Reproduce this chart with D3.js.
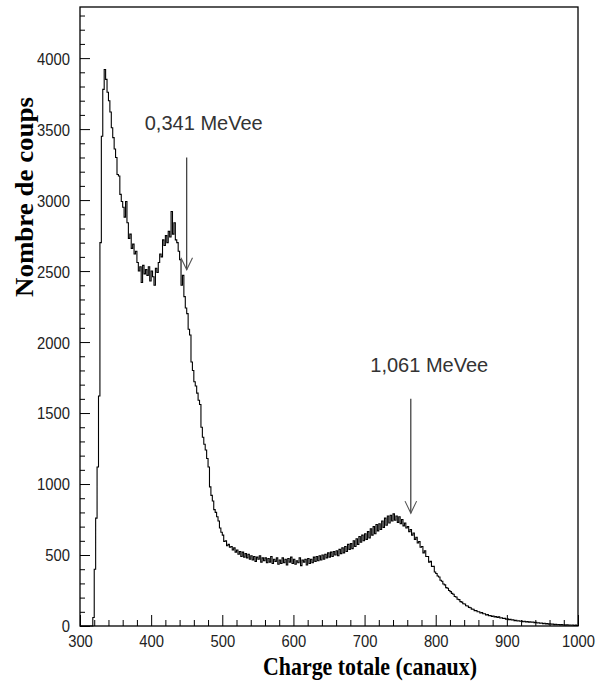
<!DOCTYPE html>
<html><head><meta charset="utf-8">
<script src="https://cdn.jsdelivr.net/npm/d3@7"></script>
<style>html,body{margin:0;padding:0;background:#fff;} svg{display:block}</style>
</head><body><svg id="c" width="597" height="690"></svg>
<script>
// ---- data ----
const binStart = 300, binEnd = 1000, binWidth = 2;
const counts = [
  0,0,0,0,0,0,0,0,0,60,
  400,760,1120,1620,2700,3450,3780,3920,3850,3760,
  3700,3620,3510,3440,3360,3300,3180,3170,3040,2990,
  2950,2880,2990,2840,2730,2760,2660,2690,2620,2640,
  2560,2500,2530,2420,2540,2480,2510,2470,2530,2430,
  2500,2460,2400,2520,2490,2560,2620,2600,2720,2680,
  2750,2700,2780,2740,2920,2760,2840,2720,2700,2640,
  2580,2400,2470,2320,2240,2200,2090,2050,1860,1800,
  1720,1690,1640,1590,1560,1400,1330,1280,1240,1180,
  1120,980,920,880,820,800,770,740,690,660,
  640,595,600,565,575,555,560,535,550,520,
  535,505,525,490,520,485,510,480,505,470,
  495,465,490,455,485,470,495,450,480,460,
  480,445,475,450,490,440,470,455,480,435,
  465,440,480,445,470,430,475,450,485,440,
  470,435,460,445,480,425,465,450,470,430,
  475,440,470,445,485,455,490,460,495,465,
  500,470,505,480,515,485,520,490,525,500,
  530,495,540,510,550,515,560,525,575,540,
  580,545,600,560,615,575,630,590,640,600,
  650,610,665,620,685,640,700,650,715,670,
  720,680,740,695,760,710,775,725,780,740,
  790,745,775,730,770,720,750,705,725,690,
  700,665,680,640,655,610,625,585,595,555,
  560,515,530,490,490,450,455,420,420,380,
  370,352,345,322,315,296,290,270,266,250,
  242,230,224,208,204,188,186,172,168,157,
  155,143,141,131,129,119,118,108,109,100,
  100,92,94,86,86,78,80,72,74,68,
  70,64,66,60,64,56,58,53,54,48,
  50,45,47,42,44,38,40,35,37,33,
  35,30,33,28,31,27,29,26,28,24,
  26,21,23,19,21,17,19,15,17,13,
  15,12,13,10,12,9,11,8,10,7,
  9,6,8,6,7,5,7,4,6,4
];
const xMajorTicks = [300,400,500,600,700,800,900,1000];
const yMajorTicks = [0,500,1000,1500,2000,2500,3000,3500,4000];
const yMax = 4360;
const annLabels = ["0,341 MeVee", "1,061 MeVee"];
const annChannel = [450, 765];
const annTop = [3300, 1600];
const annBottom = [2510, 795];
const annTextChannel = [391, 708];
const annTextValue = [3494, 1789];
const xTitle = "Charge totale (canaux)";
const yTitle = "Nombre de coups";

// ---- drawing ----
const svg = d3.select("#c");
const L = 80, R = 578, T = 7, B = 626;
const x = d3.scaleLinear().domain([binStart, binEnd]).range([L, R]);
const y = d3.scaleLinear().domain([0, yMax]).range([B, T]);

const tickFont = "'Liberation Sans', Arial, sans-serif";
const sx = 0.87;

// minor ticks
const xMinor = d3.range(binStart, binEnd + 1, 20).filter(v => !xMajorTicks.includes(v));
const yMinor = d3.range(0, yMax, 100).filter(v => !yMajorTicks.includes(v));

const gxMinor = svg.append("g").attr("transform", `translate(0,${B})`)
  .call(d3.axisBottom(x).tickValues(xMinor).tickSize(-6).tickSizeOuter(0).tickFormat(""));
const gx = svg.append("g").attr("transform", `translate(0,${B})`)
  .call(d3.axisBottom(x).tickValues(xMajorTicks).tickSize(-11).tickSizeOuter(0).tickFormat(d3.format("d")));
const gyMinor = svg.append("g").attr("transform", `translate(${L},0)`)
  .call(d3.axisLeft(y).tickValues(yMinor).tickSize(-5).tickSizeOuter(0).tickFormat(""));
const gy = svg.append("g").attr("transform", `translate(${L},0)`)
  .call(d3.axisLeft(y).tickValues(yMajorTicks).tickSize(-10).tickSizeOuter(0).tickFormat(d3.format("d")));

[gxMinor, gx, gyMinor, gy].forEach(g => {
  g.selectAll("line").attr("stroke", "#000").attr("stroke-width", 1);
  g.select(".domain").remove();
});
gx.selectAll("text")
  .attr("font-family", tickFont).attr("font-size", 17).attr("fill", "#222")
  .attr("y", 0).attr("dy", 0)
  .attr("transform", `translate(0,21) scale(${sx},1)`);
gy.selectAll("text")
  .attr("font-family", tickFont).attr("font-size", 17).attr("fill", "#222")
  .attr("x", 0).attr("dy", "0.35em").attr("text-anchor", "end")
  .attr("transform", `translate(-10,0) scale(${sx},1)`);

// frame
svg.append("rect").attr("x", L).attr("y", T).attr("width", R - L).attr("height", B - T)
  .attr("fill", "none").attr("stroke", "#000").attr("stroke-width", 1.3);

// histogram (step)
const pts = counts.map((c, i) => [binStart + i * binWidth, c]);
pts.push([binEnd, counts[counts.length - 1]]);
const line = d3.line().x(d => x(d[0])).y(d => y(d[1])).curve(d3.curveStepAfter);
svg.append("path").attr("d", line(pts)).attr("fill", "none")
  .attr("stroke", "#000").attr("stroke-width", 1.1);

// annotations
annLabels.forEach((lab, i) => {
  const ax = x(annChannel[i]);
  const y0 = y(annTop[i]), y1 = y(annBottom[i]);
  svg.append("line").attr("x1", ax).attr("x2", ax).attr("y1", y0).attr("y2", y1)
    .attr("stroke", "#222").attr("stroke-width", 1.1);
  svg.append("path")
    .attr("d", `M${ax - 5.8},${y1 - 12}L${ax},${y1}L${ax + 5.8},${y1 - 12}`)
    .attr("fill", "none").attr("stroke", "#555").attr("stroke-width", 1.1);
  svg.append("text").attr("x", x(annTextChannel[i])).attr("y", y(annTextValue[i]))
    .attr("font-family", tickFont).attr("font-size", 20).attr("fill", "#333")
    .attr("textLength", 118).attr("lengthAdjust", "spacingAndGlyphs")
    .text(lab);
});

// axis titles
svg.append("text").attr("x", (263 + 477) / 2).attr("y", 675)
  .attr("text-anchor", "middle")
  .attr("font-family", "'Liberation Serif', 'Times New Roman', serif")
  .attr("font-weight", "bold").attr("font-size", 25).attr("fill", "#000")
  .attr("textLength", 214).attr("lengthAdjust", "spacingAndGlyphs")
  .text(xTitle);
svg.append("text").attr("transform", "translate(33,197) rotate(-90)")
  .attr("text-anchor", "middle")
  .attr("font-family", "'Liberation Serif', 'Times New Roman', serif")
  .attr("font-weight", "bold").attr("font-size", 26).attr("fill", "#000")
  .attr("textLength", 200).attr("lengthAdjust", "spacingAndGlyphs")
  .text(yTitle);
</script></body></html>
